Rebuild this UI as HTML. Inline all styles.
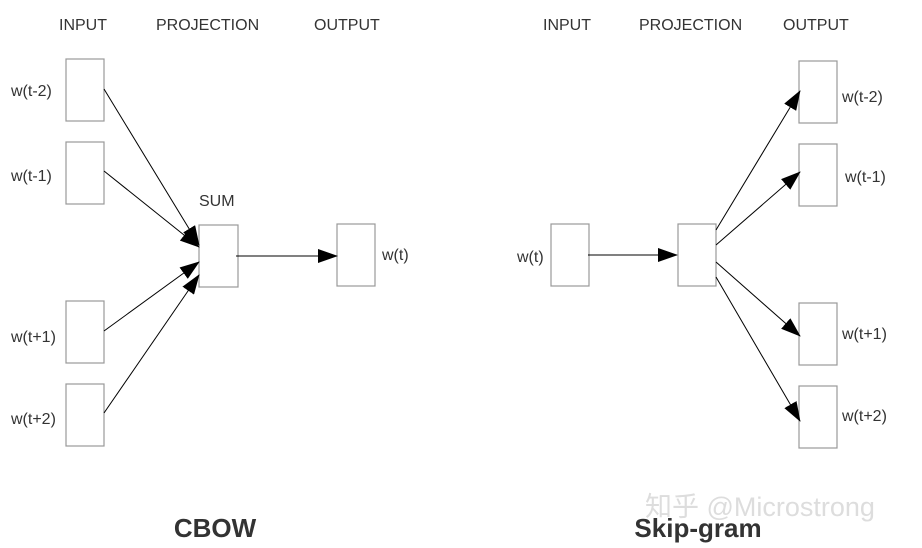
<!DOCTYPE html>
<html><head><meta charset="utf-8"><style>
html,body{margin:0;padding:0;background:#fff;}
svg{display:block}
text{font-family:"Liberation Sans",Arial,sans-serif;fill:#333;}
</style></head><body>
<svg width="922" height="548" viewBox="0 0 922 548" xmlns="http://www.w3.org/2000/svg">
<defs><marker id="a" markerWidth="20" markerHeight="14" refX="19" refY="7" orient="auto" markerUnits="userSpaceOnUse"><path d="M0,0 L20,7 L0,14 z" fill="#000"/></marker></defs>
<g font-size="16">
<text x="59" y="30">INPUT</text><text x="156" y="30">PROJECTION</text><text x="314" y="30">OUTPUT</text>
<text x="543" y="30">INPUT</text><text x="639" y="30">PROJECTION</text><text x="783" y="30">OUTPUT</text>
<text x="199" y="206">SUM</text>
<text x="11" y="96">w(t-2)</text><text x="11" y="181">w(t-1)</text><text x="11" y="342">w(t+1)</text><text x="11" y="424">w(t+2)</text>
<text x="382" y="260">w(t)</text>
<text x="517" y="262">w(t)</text>
<text x="842" y="102">w(t-2)</text><text x="845" y="182">w(t-1)</text><text x="842" y="339">w(t+1)</text><text x="842" y="421">w(t+2)</text>
</g>
<g fill="#fff" stroke="#999" stroke-width="1.2">
<rect x="66" y="59" width="38" height="62"/><rect x="66" y="142" width="38" height="62"/>
<rect x="66" y="301" width="38" height="62"/><rect x="66" y="384" width="38" height="62"/>
<rect x="199" y="225" width="39" height="62"/><rect x="337" y="224" width="38" height="62"/>
<rect x="551" y="224" width="38" height="62"/><rect x="678" y="224" width="38" height="62"/>
<rect x="799" y="61" width="38" height="62"/><rect x="799" y="144" width="38" height="62"/>
<rect x="799" y="303" width="38" height="62"/><rect x="799" y="386" width="38" height="62"/>
</g>
<g stroke="#000" stroke-width="1" marker-end="url(#a)">
<line x1="104" y1="89" x2="199" y2="245"/><line x1="104" y1="171" x2="199" y2="247"/>
<line x1="104" y1="331" x2="199" y2="262"/><line x1="104" y1="413" x2="199" y2="275"/>
<line x1="236" y1="256" x2="337" y2="256"/>
<line x1="588" y1="255" x2="677" y2="255"/>
<line x1="716" y1="230" x2="800" y2="91"/><line x1="716" y1="245" x2="800" y2="172"/>
<line x1="716" y1="262" x2="800" y2="336"/><line x1="716" y1="277" x2="800" y2="421"/>
</g>
<text x="645" y="516" font-size="27" style="fill:#ddd;font-family:'Liberation Sans','Noto Sans CJK SC',sans-serif">知乎 @Microstrong</text>
<text x="215" y="537" font-size="26" font-weight="bold" text-anchor="middle">CBOW</text>
<text x="698" y="537" font-size="26" font-weight="bold" text-anchor="middle">Skip-gram</text>
</svg>
</body></html>
